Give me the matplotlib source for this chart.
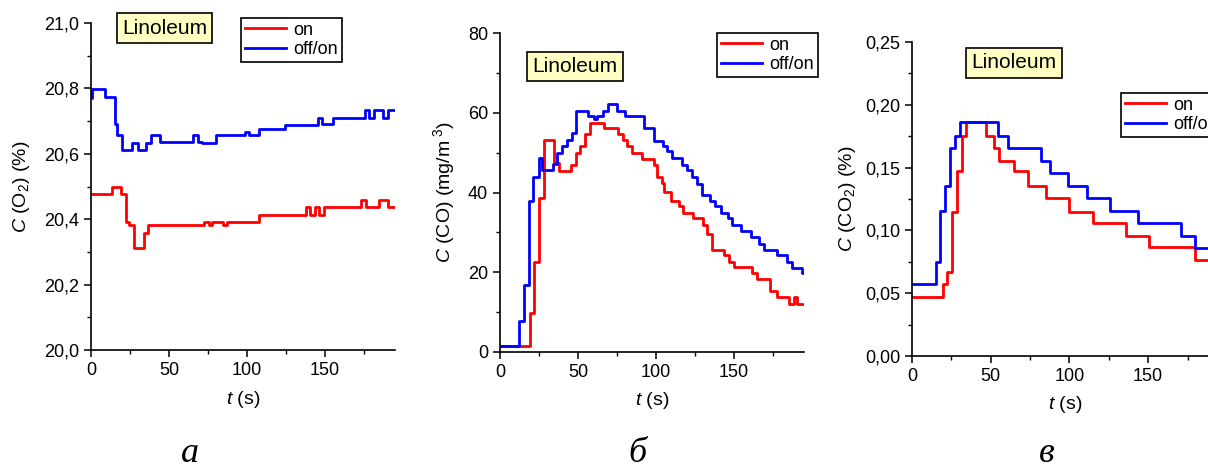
import matplotlib
matplotlib.use('Agg')
import matplotlib.pyplot as plt
from matplotlib.ticker import MultipleLocator, FuncFormatter

plt.rcParams['font.family'] = ['Liberation Sans', 'DejaVu Sans']
plt.rcParams['mathtext.fontset'] = 'custom'
plt.rcParams['mathtext.rm'] = 'Liberation Sans'
plt.rcParams['mathtext.it'] = 'Liberation Sans:italic'

# --- data: step start times (s) and concentrations ---
# (а) O2, %
o2_on_t = [0, 13.3, 19.2, 22.2, 24.5, 27.8, 34.2, 36.5, 72.8, 75.5, 77.5, 84.5, 87.2,
           107.5, 137.8, 140.5, 143.5, 146, 149.5, 173.3, 176.5, 185, 190.5, 195]
o2_on_v = [20.476, 20.498, 20.476, 20.39, 20.382, 20.311, 20.357, 20.382, 20.39, 20.382,
           20.39, 20.382, 20.39, 20.414, 20.436, 20.414, 20.436, 20.414, 20.436, 20.459,
           20.436, 20.459, 20.436, 20.436]
o2_off_t = [0, 0.5, 9, 15.2, 16.5, 19.8, 26.5, 30.2, 35.2, 38.5, 44, 65.5, 68.5, 71, 80.5,
            99, 101.5, 108, 124.5, 145.5, 148, 155, 175.5, 178.5, 181.5, 187.5, 190.5, 195]
o2_off_v = [20.77, 20.797, 20.773, 20.69, 20.656, 20.612, 20.634, 20.612, 20.634, 20.656,
            20.636, 20.656, 20.636, 20.634, 20.656, 20.667, 20.656, 20.677, 20.687, 20.711,
            20.690, 20.711, 20.733, 20.711, 20.733, 20.711, 20.733, 20.733]

# (б) CO, mg/m3
co_on_t = [0, 19.2, 21.6, 25.0, 28.4, 34.6, 37.6, 45.3, 48.9, 51.5, 54.7, 57.5, 66.7, 75.4,
           79.1, 81.6, 84.8, 91.2, 98.7, 100.6, 103.6, 105.3, 109.4, 114.7, 117.7, 123.9,
           129.9, 132.9, 136.1, 143.6, 146.8, 149.8, 161.8, 165.0, 173.5, 177.8, 185.5,
           188.7, 190.6, 195]
co_on_v = [1.6, 9.85, 22.6, 38.5, 53.2, 47.4, 45.5, 46.9, 50.0, 51.7, 54.7, 57.5, 56.1, 54.7,
           53.2, 51.7, 50.0, 48.4, 46.9, 43.9, 42.4, 40.2, 37.9, 36.5, 34.9, 33.5, 31.8,
           29.5, 25.7, 24.3, 22.6, 21.4, 19.7, 18.2, 15.4, 13.9, 12.0, 13.7, 12.0, 12.0]
co_off_t = [0, 12.4, 15.6, 18.8, 21.4, 24.8, 27.1, 33.8, 36.7, 40.0, 43.2, 46.2, 48.5, 56.6,
            60.0, 62.4, 66.2, 69.2, 74.8, 80.5, 92.5, 98.7, 104.3, 107.3, 110.4, 116.9,
            120.1, 123.1, 126.5, 129.7, 135.0, 137.8, 141.5, 146.4, 148.9, 154.3, 160.7,
            166.2, 169.2, 177.8, 184.2, 187.4, 193.8, 195]
co_off_v = [1.6, 7.85, 16.8, 37.9, 43.9, 48.6, 45.6, 47.1, 50.0, 51.7, 53.2, 54.8, 60.5,
            59.2, 58.4, 59.2, 60.5, 62.2, 60.5, 59.2, 56.1, 53.0, 51.7, 50.3, 48.6, 46.9,
            45.6, 43.9, 42.2, 39.4, 37.9, 36.5, 34.9, 33.5, 31.8, 30.4, 28.9, 27.2, 25.7,
            24.3, 22.6, 21.1, 19.7, 19.7]

# (в) CO2, %
co2_on_t = [0, 19.8, 22.5, 25.7, 28.8, 31.7, 34.2, 46.8, 52.1, 55.4, 64.9, 73.8, 85.0,
            99.9, 115.0, 135.7, 150.8, 179.5, 195]
co2_on_v = [0.047, 0.057, 0.0666, 0.115, 0.147, 0.175, 0.1865, 0.175, 0.166, 0.155, 0.147,
            0.135, 0.126, 0.115, 0.106, 0.0955, 0.0868, 0.0764, 0.0764]
co2_off_t = [0, 15.3, 18.0, 21.0, 24.1, 27.2, 30.6, 54.5, 60.7, 81.9, 87.8, 99.2, 111.1,
             125.9, 143.6, 171.0, 179.8, 195]
co2_off_v = [0.057, 0.0751, 0.1157, 0.1353, 0.1658, 0.1754, 0.186, 0.1754, 0.1658, 0.1552,
             0.146, 0.1353, 0.126, 0.1157, 0.1061, 0.0955, 0.0862, 0.0862]

W, H = 1208, 468
fig = plt.figure(figsize=(W / 100, H / 100), dpi=100)


def px_axes(left, top, right, bottom):
    return fig.add_axes([left / W, 1 - bottom / H, (right - left) / W, (bottom - top) / H])


def comma_fmt(decimals):
    return FuncFormatter(lambda x, pos: f"{x:.{decimals}f}".replace('.', ','))


panels = [
    dict(box=(91, 23, 395, 350), on=(o2_on_t, o2_on_v), off=(o2_off_t, o2_off_v),
         ylim=(20.0, 21.0), major=0.2, minor=0.1, dec=1,
         ylabel=r'$\it{C}$ (O$_2$) (%)', ylab_x=-0.194,
         lino=(164.5, 28), leg=(241, 18), letter=('а', 190)),
    dict(box=(500, 33, 804, 352), on=(co_on_t, co_on_v), off=(co_off_t, co_off_v),
         ylim=(0, 80), major=20, minor=10, dec=0,
         ylabel=r'$\it{C}$ (CO) (mg/m$^{\ 3}$)', ylab_x=-0.141,
         lino=(575, 66.5), leg=(717, 33), letter=('б', 637)),
    dict(box=(912, 42, 1219, 356), on=(co2_on_t, co2_on_v), off=(co2_off_t, co2_off_v),
         ylim=(0, 0.25), major=0.05, minor=0.025, dec=2,
         ylabel=r'$\it{C}$ (CO$_2$) (%)', ylab_x=-0.176,
         lino=(1014, 63), leg=(1121, 93), letter=('в', 1047)),
]

for p in panels:
    ax = px_axes(*p['box'])
    l1, = ax.step(*p['on'], where='post', color='#ff0000', lw=2, label='on')
    l2, = ax.step(*p['off'], where='post', color='#0000ff', lw=2, label='off/on')
    ax.set_xlim(0, 195)
    ax.set_ylim(*p['ylim'])
    ax.xaxis.set_major_locator(MultipleLocator(50))
    ax.xaxis.set_minor_locator(MultipleLocator(25))
    ax.yaxis.set_major_locator(MultipleLocator(p['major']))
    ax.yaxis.set_minor_locator(MultipleLocator(p['minor']))
    ax.yaxis.set_major_formatter(comma_fmt(p['dec']))
    for s in ('top', 'right'):
        ax.spines[s].set_visible(False)
    for s in ('left', 'bottom'):
        ax.spines[s].set_linewidth(1.2)
    ax.tick_params(which='major', direction='out', length=5, width=1.1, labelsize=13)
    ax.tick_params(which='minor', direction='out', length=3, width=1)
    ax.set_xlabel(r'$\it{t}$ (s)', fontsize=14, va='top')
    ax.xaxis.set_label_coords(0.5, -0.12)
    ax.set_ylabel(p['ylabel'], fontsize=14)
    ax.yaxis.set_label_coords(p['ylab_x'], 0.5)

    lx, ly = p['lino']
    fig.text(lx / W, 1 - ly / H, 'Linoleum', fontsize=15, ha='center', va='center',
             bbox=dict(boxstyle='square,pad=0.25', facecolor='#ffffc4',
                       edgecolor='black', linewidth=1.2))

    gx, gy = p['leg']
    leg = fig.legend(handles=[l1, l2], loc='upper left', bbox_to_anchor=(gx / W, 1 - gy / H),
                     fontsize=13, frameon=True, fancybox=False, framealpha=1,
                     edgecolor='black', handlelength=2.3, handletextpad=0.4,
                     borderpad=0.2, labelspacing=0.15, borderaxespad=0)
    leg.get_frame().set_linewidth(1.2)

    fig.text(p['letter'][1] / W, 1 - 462 / H, p['letter'][0], fontsize=26,
             family='Liberation Serif', style='italic', ha='center', va='baseline')

fig.savefig('out.png', dpi=100)
